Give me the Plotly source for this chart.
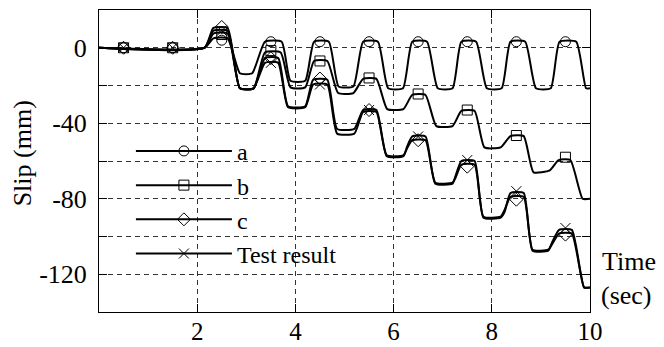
import plotly.graph_objects as go

# ---- data ----
time_a = [0, 2.15, 2.33, 2.62, 2.87, 3.12, 3.38, 3.72, 3.9, 4.2, 4.38, 4.68, 4.88, 5.18,
          5.38, 5.68, 5.89, 6.19, 6.38, 6.68, 6.9, 7.2, 7.38, 7.68, 7.9, 8.2, 8.38, 8.68,
          8.9, 9.2, 9.38, 9.72, 9.92, 10]
slip_a = [0, 0, 5, 5, -13.5, -13.5, 3.2, 3.2, -17.5, -17.5, 3.2, 3.2, -20.5, -20.5,
          3.2, 3.2, -21.5, -21.5, 3.2, 3.2, -21.5, -21.5, 3.2, 3.2, -21.5, -21.5, 3.2, 3.2,
          -21.5, -21.5, 3.2, 3.2, -21.5, -21.5]

time_b = [0, 2.15, 2.33, 2.62, 2.87, 3.15, 3.38, 3.7, 3.9, 4.2, 4.38, 4.65, 4.87, 5.18,
          5.38, 5.65, 5.87, 6.2, 6.38, 6.65, 6.87, 7.2, 7.38, 7.65, 7.85, 8.18, 8.38, 8.65,
          8.85, 9.18, 9.36, 9.6, 9.85, 10]
slip_b = [0, 0, 7.5, 7.5, -21.5, -21.5, -2.5, -2.5, -21, -21, -7, -7, -24, -24,
          -16.5, -16.5, -32.5, -32.5, -25, -25, -41.5, -41.5, -33.5, -33.5, -52.8, -52.8, -46.8, -46.8,
          -66, -65, -59.5, -59.5, -80, -80]

time_c = [0, 2.15, 2.33, 2.62, 2.87, 3.15, 3.38, 3.65, 3.85, 4.2, 4.36, 4.65, 4.85, 5.2,
          5.38, 5.65, 5.86, 6.2, 6.28, 6.38, 6.65, 6.85, 7.2, 7.26, 7.38, 7.65, 7.83, 8.18,
          8.26, 8.38, 8.65, 8.83, 9.15, 9.23, 9.37, 9.63, 9.88, 10]
slip_c = [0, 0, 10.5, 10.5, -21.5, -21.5, -5.5, -5.5, -31, -31, -17, -17, -43, -43,
          -33, -33, -57, -57, -53, -49, -49, -71.5, -71.5, -69, -62, -62, -89.5, -89.5,
          -86, -79, -79, -107, -107, -104, -98.5, -98.5, -127, -127]

time_test = [0, 2.15, 2.33, 2.62, 2.87, 3.15, 3.38, 3.65, 3.85, 4.2, 4.36, 4.65, 4.85, 5.2,
             5.38, 5.65, 5.86, 6.2, 6.28, 6.38, 6.65, 6.85, 7.2, 7.26, 7.38, 7.65, 7.83, 8.18,
             8.26, 8.38, 8.65, 8.83, 9.15, 9.23, 9.37, 9.63, 9.88, 10]
slip_test = [0, 0, 9, 9, -21.5, -21.5, -8, -8, -31.5, -31.5, -19.5, -19.5, -45.5, -45.5,
             -34, -34, -57.5, -57.5, -52, -47, -47, -72, -72, -68, -60, -60, -90, -90,
             -87, -77, -77, -107.5, -107.5, -103, -96.5, -96.5, -127, -127]

marker_time = [0.5, 1.5, 2.5, 3.5, 4.5, 5.5, 6.5, 7.5, 8.5, 9.5]
marker_a = [0, 0, 4, 3.2, 3.2, 3.2, 3.2, 3.2, 3.2, 3.2]
marker_b = [0, 0, 7, -1.5, -7, -16, -24.5, -33, -46.5, -58]
marker_c = [0, 0, 11, -5.5, -16.3, -33, -49, -63, -80.5, -99]
marker_test = [0, 0, 9, -8, -19.5, -33, -47, -59.5, -76, -95.5]

series_names = ["a", "b", "c", "Test result"]
x_tick_vals = [2, 4, 6, 8, 10]
y_tick_vals = [0, -20, -40, -60, -80, -100, -120]
y_tick_text = ["0", "", "-40", "", "-80", "", "-120"]

FONT = "Liberation Serif"
series = [
    (time_a, slip_a, marker_a, "circle-open"),
    (time_b, slip_b, marker_b, "square-open"),
    (time_c, slip_c, marker_c, "diamond-open"),
    (time_test, slip_test, marker_test, "x-thin-open"),
]

fig = go.Figure()
for name, (t, s, m, sym) in zip(series_names, series):
    fig.add_trace(go.Scatter(x=t, y=s, mode="lines", showlegend=False,
                             line=dict(color="black", width=2, shape="spline", smoothing=0.5)))
    fig.add_trace(go.Scatter(x=marker_time, y=m, mode="markers", showlegend=False,
                             marker=dict(symbol=sym, size=10, color="black",
                                         line=dict(color="black", width=1))))
for name, (t, s, m, sym) in zip(series_names, series):
    fig.add_trace(go.Scatter(x=[None], y=[None], mode="lines+markers", name=name,
                             line=dict(color="black", width=2),
                             marker=dict(symbol=sym, size=10, color="black",
                                         line=dict(color="black", width=1))))

axis_common = dict(showline=True, linecolor="black", linewidth=1, mirror="ticks",
                   ticks="inside", ticklen=8, tickcolor="black", automargin=False,
                   showgrid=True, gridcolor="#333", gridwidth=1, griddash="5px,4px",
                   zeroline=False)

fig.update_xaxes(range=[0, 10], tickvals=x_tick_vals, ticklabelstandoff=-3,
                 tickfont=dict(family=FONT, size=25, color="black"), **axis_common)
fig.update_yaxes(range=[-140, 20], tickvals=y_tick_vals, ticktext=y_tick_text,
                 ticklabelstandoff=6, tickfont=dict(family=FONT, size=26, color="black"),
                 **axis_common)

# the page body has an 8px margin, so the figure is sized/offset to compensate
fig.update_layout(
    autosize=False,
    width=656, height=339,
    margin=dict(l=91, r=74, t=2, b=35, autoexpand=False),
    paper_bgcolor="white", plot_bgcolor="white",
    font=dict(family=FONT, size=26, color="black"),
    legend=dict(x=0.065, y=0.6065, xanchor="left", yanchor="top", bgcolor="rgba(0,0,0,0)",
                itemwidth=96, font=dict(family=FONT, size=24), tracegroupgap=0),
    annotations=[
        dict(text="Slip (mm)", xref="paper", yref="paper", x=-0.155, y=0.525,
             textangle=-90, showarrow=False, xanchor="center", yanchor="middle",
             font=dict(family=FONT, size=26)),
        dict(text="Time", xref="paper", yref="paper", x=1.02, y=0.166,
             showarrow=False, xanchor="left", yanchor="middle", font=dict(family=FONT, size=26)),
        dict(text="(sec)", xref="paper", yref="paper", x=1.018, y=0.053,
             showarrow=False, xanchor="left", yanchor="middle", font=dict(family=FONT, size=26)),
    ],
)

fig.write_html("out.html", config={"responsive": False, "displayModeBar": False})
